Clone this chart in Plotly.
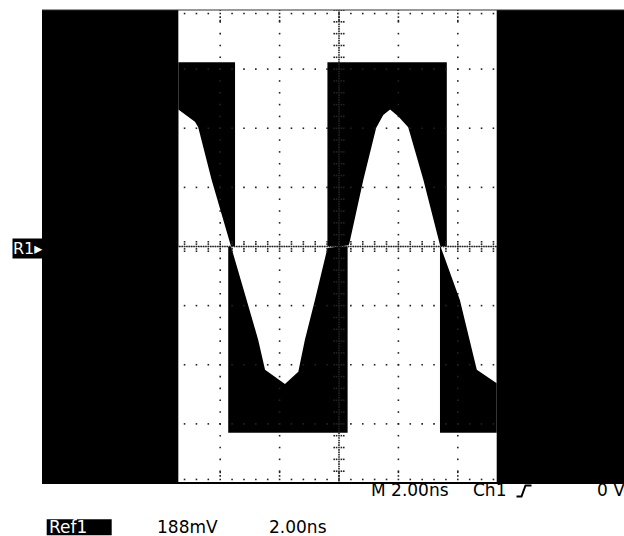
import numpy as np
import plotly.graph_objects as go

# ---------------- data (read from the screen) ----------------
# Ref1 trace: sampled sine-like waveform, time in ns, amplitude in mV
sine_t = [-5.41, -4.85, -4.74, -4.29, -3.11, -2.72, -2.49, -1.82, -1.37, -1.15,
          -0.81, -0.44, -0.39, 0.32, 0.35, 0.82, 1.25, 1.49, 1.72, 2.00, 2.33, 2.84,
          3.40, 4.07, 4.41, 4.64, 5.31]
sine_v = [436, 397, 379, 212, -170, -297, -392, -437, -398, -297,
          -170, -32, -5, 4, 10, 212, 377, 418, 436, 413, 379, 212,
          5, -170, -297, -392, -435]

# square-wave reference: segments (start, end, level)
sq_start = [-5.41, -3.73, -0.39, 3.40]
sq_end = [-3.50, 0.29, 3.63, 5.31]
sq_level = [586, -592, 586, -592]

mv_per_div = 188      # vertical scale
ns_per_div = 2.00     # horizontal scale
trigger_level = "0 V"

# ---------------- geometry ----------------
W, H = 624, 536
L, T, B = 42, 10, 53
px_per_div_x = 59.4
plot_w = W - L
plot_h = H - T - B
x_min = -5 * ns_per_div
x_max = x_min + plot_w / px_per_div_x * ns_per_div
y_min, y_max = -4 * mv_per_div, 4 * mv_per_div


def pxx(px):
    return (px - L) / plot_w


def pxy(py):
    return (H - B - py) / plot_h


fig = go.Figure()

# square-to-zero regions (black)
for s, e, lv in zip(sq_start, sq_end, sq_level):
    fig.add_trace(go.Scatter(x=[s, s, e, e, s], y=[0, lv, lv, 0, 0], mode="lines",
                             fill="toself", fillcolor="black",
                             line=dict(width=0, color="black"),
                             hoverinfo="skip", showlegend=False))

# sine-to-zero region (white, XOR effect)
fig.add_trace(go.Scatter(x=sine_t, y=sine_v, mode="lines", fill="tozeroy",
                         fillcolor="white", line=dict(width=0, color="white"),
                         hoverinfo="skip", showlegend=False))

# ---------------- graticule dots ----------------
gx, gy = [], []
minor = np.round(np.arange(-5, 5.001, 0.2), 3)
minor_y = np.round(np.arange(-4, 4.001, 0.2), 3)
for u in range(-4, 5):
    if u == 0:
        continue
    for v in minor_y:
        gx.append(u); gy.append(v)
for v in range(-3, 4):
    if v == 0:
        continue
    for u in minor:
        gx.append(u); gy.append(v)
# centre lines
for v in np.arange(-4, 4.001, 0.04):
    gx.append(0); gy.append(v)
for u in np.arange(-5, 5.001, 0.04):
    gx.append(u); gy.append(0)
for v in minor_y:
    for d in (-0.08, -0.04, 0.04, 0.08):
        gx.append(d); gy.append(v)
for u in minor:
    for d in (-0.08, -0.04, 0.04, 0.08):
        gx.append(u); gy.append(d)
# top / bottom edge ticks
for u in minor:
    for sgn in (1, -1):
        gx.append(u); gy.append(sgn * 3.94)
for u in range(-5, 6):
    for sgn in (1, -1):
        for d in (3.88, 3.82):
            gx.append(u); gy.append(sgn * d)

fig.add_trace(go.Scatter(x=np.array(gx) * ns_per_div, y=np.array(gy) * mv_per_div,
                         mode="markers",
                         marker=dict(symbol="square", size=1.6, color="#222",
                                     line=dict(width=0)),
                         hoverinfo="skip", showlegend=False))

shapes = [
    # outside the record: black
    dict(type="rect", xref="x", yref="paper", x0=x_min, x1=sine_t[0], y0=0, y1=1,
         fillcolor="black", line=dict(width=0), layer="above"),
    dict(type="rect", xref="x", yref="paper", x0=sine_t[-1], x1=x_max + 1, y0=0, y1=1,
         fillcolor="black", line=dict(width=0), layer="above"),
    # frame lines
    dict(type="line", xref="paper", yref="paper", x0=0, x1=1, y0=1, y1=1,
         line=dict(color="#333", width=1.2), layer="above"),
    dict(type="line", xref="paper", yref="paper", x0=0, x1=1, y0=0, y1=0,
         line=dict(color="black", width=2), layer="above"),
    # Ref1 label box
    dict(type="rect", xref="paper", yref="paper", x0=pxx(46.7), x1=pxx(111.7),
         y0=pxy(535.3), y1=pxy(519.3), fillcolor="black", line=dict(width=0)),
    # trigger slope glyph
    dict(type="path", xref="paper", yref="paper",
         path="M %f,%f L %f,%f L %f,%f L %f,%f" % (
             pxx(516.5), pxy(496.5), pxx(521.5), pxy(496.5),
             pxx(525.5), pxy(485.5), pxx(531.5), pxy(485.5)),
         line=dict(color="black", width=2)),
]

FONT = "DejaVu Sans"
ann = []


def text(s, px, py, size=17, color="black", xanchor="left", bg=None):
    d = dict(text=s, xref="paper", yref="paper", x=pxx(px), y=pxy(py),
             xanchor=xanchor, yanchor="middle", showarrow=False,
             font=dict(family=FONT, size=size, color=color), borderpad=0)
    if bg:
        d["bgcolor"] = bg
    ann.append(d)


text("R1▸", 42.7, 249, size=16, color="white", xanchor="right", bg="black")
text("M %.2fns" % ns_per_div, 369.5, 490)
text("Ch1", 471.5, 490)
text(trigger_level, 596, 490)
text("Ref1", 48, 526.5, color="white")
text("%dmV" % mv_per_div, 156, 526.5)
text("%.2fns" % ns_per_div, 268, 526.5)

fig.update_layout(
    width=W, height=H,
    margin=dict(l=L, r=0, t=T, b=B, pad=0),
    paper_bgcolor="white", plot_bgcolor="white",
    xaxis=dict(range=[x_min, x_max], showgrid=False, zeroline=False,
               showticklabels=False, showline=False, ticks="", fixedrange=True),
    yaxis=dict(range=[y_min, y_max], showgrid=False, zeroline=False,
               showticklabels=False, showline=False, ticks="", fixedrange=True),
    shapes=shapes, annotations=ann, showlegend=False,
)

fig.write_html("out.html")
